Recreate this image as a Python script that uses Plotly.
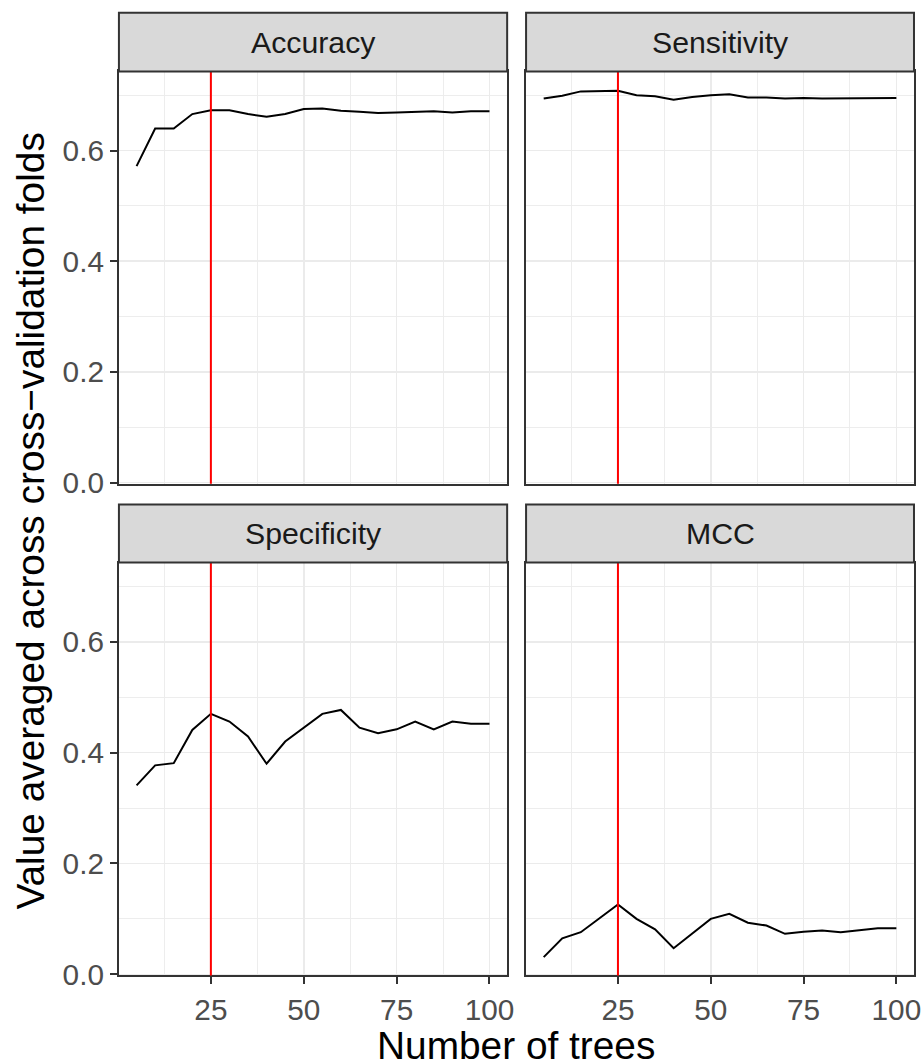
import plotly.graph_objects as go

# ---- data ----
n_trees = [5, 10, 15, 20, 25, 30, 35, 40, 45, 50, 55, 60, 65, 70, 75, 80, 85, 90, 95, 100]
accuracy = [0.572, 0.640, 0.640, 0.666, 0.673, 0.673, 0.666, 0.661, 0.666, 0.675,
            0.676, 0.672, 0.670, 0.668, 0.669, 0.670, 0.671, 0.669, 0.671, 0.671]
sensitivity = [0.694, 0.699, 0.707, 0.707, 0.708, 0.700, 0.698, 0.692, 0.697, 0.700,
               0.702, 0.696, 0.696, 0.694, 0.695, 0.694, 0.694, 0.695, 0.695, 0.695]
specificity = [0.341, 0.377, 0.381, 0.441, 0.470, 0.456, 0.429, 0.380, 0.420, 0.445,
               0.470, 0.477, 0.445, 0.435, 0.442, 0.456, 0.442, 0.456, 0.452, 0.452]
mcc = [0.031, 0.065, 0.076, 0.101, 0.126, 0.100, 0.081, 0.047, 0.074, 0.100,
       0.109, 0.093, 0.088, 0.073, 0.077, 0.079, 0.076, 0.079, 0.083, 0.083]
metric_names = ["Accuracy", "Sensitivity", "Specificity", "MCC"]
metric_values = [accuracy, sensitivity, specificity, mcc]
best_ntree = 25
x_tick_vals = [25, 50, 75, 100]
y_tick_vals = [0.0, 0.2, 0.4, 0.6]
y_tick_text = ["0.0", "0.2", "0.4", "0.6"]

# ---- layout geometry ----
# target positions are in reference-picture pixels (922 x 1063); the page is
# drawn slightly larger to compensate for the capture scaling.
TW, TH = 922, 1063
W, H = 930, 1079
FS = W / TW   # font scale
FONT = "Liberation Sans, Arial, Helvetica, sans-serif"
col_px = [(118.8, 506.6), (525.5, 913.0)]
row_px = [(71.4, 483.3), (562.0, 974.5)]   # panel top, bottom
strip_px = [(12.7, 71.4), (504.0, 562.0)]
x_range = [0.25, 104.75]
y_range = [-0.002, 0.743]


def px_x(p):
    return p / TW


def px_y(p):
    return 1 - p / TH


fig = go.Figure()
shapes = []
annotations = []

for i, (name, vals) in enumerate(zip(metric_names, metric_values)):
    r, c = divmod(i, 2)
    k = "" if i == 0 else str(i + 1)
    xa, ya = "x" + k, "y" + k
    fig.add_trace(go.Scatter(x=n_trees, y=vals, mode="lines",
                             line=dict(color="black", width=2),
                             xaxis=xa, yaxis=ya, showlegend=False,
                             hoverinfo="skip"))
    xd = [px_x(col_px[c][0]), px_x(col_px[c][1])]
    yd = [px_y(row_px[r][1]), px_y(row_px[r][0])]
    show_x = (r == 1)
    show_y = (c == 0)
    fig.update_layout(**{
        ("xaxis" + k): dict(
            domain=xd, range=x_range, anchor=ya,
            tickvals=x_tick_vals, showticklabels=show_x,
            ticks="outside" if show_x else "", ticklen=7, tickwidth=2, tickcolor="#333333",
            tickfont=dict(family=FONT, size=29.5 * FS, color="#4D4D4D"),
            showgrid=True, gridcolor="#EBEBEB", gridwidth=1.6,
            minor=dict(dtick=12.5, tick0=0, showgrid=True, gridcolor="#EBEBEB", gridwidth=0.9),
            zeroline=False, showline=True, mirror=True, linecolor="#333333", linewidth=2,
            fixedrange=True),
        ("yaxis" + k): dict(
            domain=yd, range=y_range, anchor=xa,
            tickvals=y_tick_vals, ticktext=y_tick_text, showticklabels=show_y,
            ticks="outside" if show_y else "", ticklen=7, tickwidth=2, tickcolor="#333333",
            tickfont=dict(family=FONT, size=29.5 * FS, color="#4D4D4D"),
            showgrid=True, gridcolor="#EBEBEB", gridwidth=1.6,
            minor=dict(dtick=0.1, tick0=0, showgrid=True, gridcolor="#EBEBEB", gridwidth=0.9),
            zeroline=False, showline=True, mirror=True, linecolor="#333333", linewidth=2,
            fixedrange=True),
    })
    # red vertical line at best number of trees
    shapes.append(dict(type="line", xref=xa, yref=ya + " domain",
                       x0=best_ntree, x1=best_ntree, y0=0, y1=1,
                       line=dict(color="#FF0000", width=2), layer="above"))
    # strip
    sx0, sx1 = px_x(col_px[c][0]), px_x(col_px[c][1])
    sy0, sy1 = px_y(strip_px[r][1]), px_y(strip_px[r][0])
    shapes.append(dict(type="rect", xref="paper", yref="paper",
                       x0=sx0, x1=sx1, y0=sy0, y1=sy1,
                       fillcolor="#D9D9D9", line=dict(color="#333333", width=2),
                       layer="above"))
    annotations.append(dict(text=name, xref="paper", yref="paper",
                            x=(sx0 + sx1) / 2, y=(sy0 + sy1) / 2,
                            xanchor="center", yanchor="middle", showarrow=False,
                            font=dict(family=FONT, size=30 * FS, color="#1A1A1A")))

annotations.append(dict(text="Number of trees", xref="paper", yref="paper",
                        x=px_x((col_px[0][0] + col_px[1][1]) / 2), y=px_y(1045),
                        xanchor="center", yanchor="middle", showarrow=False,
                        font=dict(family=FONT, size=38.5 * FS, color="black")))
annotations.append(dict(text="Value averaged across cross\u2212validation folds",
                        xref="paper", yref="paper", textangle=-90,
                        x=px_x(30), y=px_y(521),
                        xanchor="center", yanchor="middle", showarrow=False,
                        font=dict(family=FONT, size=38.5 * FS, color="black")))

fig.update_layout(width=W, height=H, margin=dict(l=0, r=0, t=0, b=0),
                  paper_bgcolor="white", plot_bgcolor="white",
                  shapes=shapes, annotations=annotations, showlegend=False)

fig.write_html("out.html",
               config={"displayModeBar": False, "staticPlot": True},
               post_script="document.body.style.margin='0';"
                           "document.documentElement.style.overflow='hidden';")
